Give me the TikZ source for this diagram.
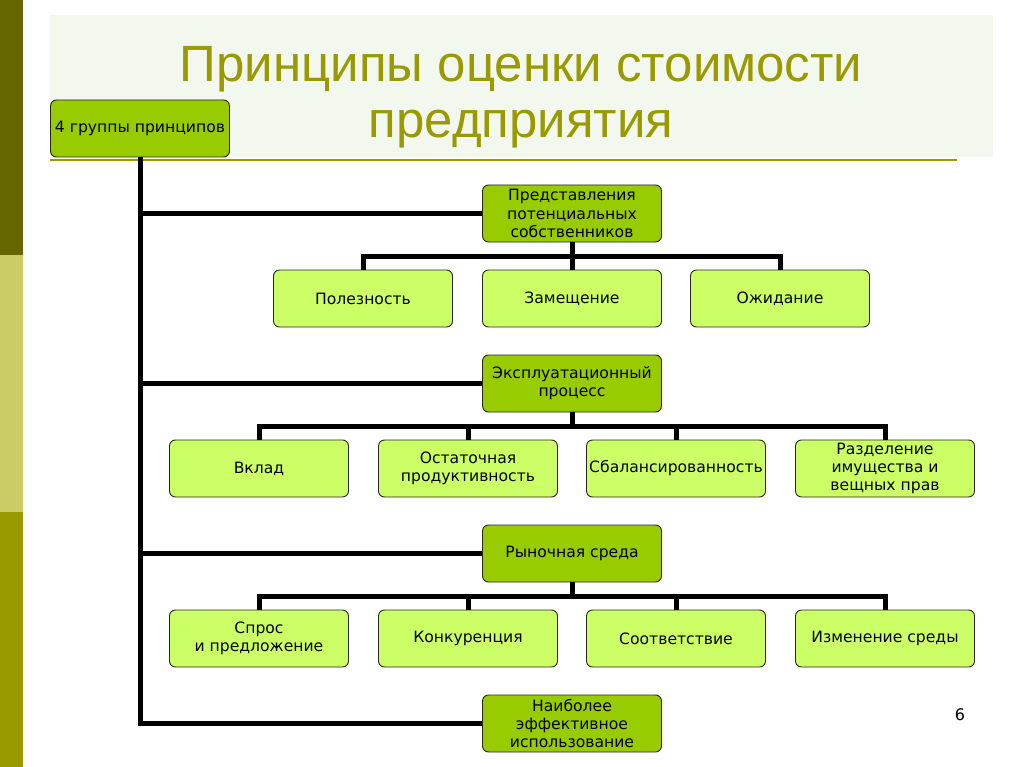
\documentclass[tikz,border=0pt]{standalone}
\usepackage{fontspec}
\setmainfont{DejaVu Sans}
\newfontfamily\titlefont{Liberation Sans}
\definecolor{barA}{HTML}{666600}
\definecolor{barB}{HTML}{CCCC66}
\definecolor{barC}{HTML}{999900}
\definecolor{titlebg}{HTML}{F3F8EE}
\definecolor{titlecol}{HTML}{999900}
\definecolor{darkfill}{HTML}{99CC00}
\definecolor{lightfill}{HTML}{CCFF66}
\tikzset{
  boxbase/.style={draw=black!85, line width=0.9pt, rounded corners=6pt,
    minimum width=179pt, minimum height=57pt, align=center, inner xsep=1pt, inner ysep=2pt,
    font=\fontsize{15.6}{18.3}\selectfont},
  lvlone/.style={boxbase, fill=darkfill},
  lvltwo/.style={boxbase, fill=lightfill},
  conn/.style={line width=5pt, black},
}
\begin{document}
\begin{tikzpicture}[x=1pt,y=-1pt]
\useasboundingbox (0,0) rectangle (1024,767);
\fill[white] (0,0) rectangle (1024,767);
% left bars
\fill[barA] (0,0) rectangle (23,255);
\fill[barB] (0,255) rectangle (23,512);
\fill[barC] (0,512) rectangle (23,767);
% title area
\fill[titlebg] (50,15) rectangle (993,157);
\draw[titlecol, line width=2pt] (50,160) -- (957,160);
\node[anchor=base, text=titlecol, font=\titlefont\fontsize{51}{60}\selectfont, inner sep=0] (t1) at (521,82) {Принципы оценки стоимости};
\node[anchor=base, text=titlecol, font=\titlefont\fontsize{51}{60}\selectfont, inner sep=0] (t2) at (521,138) {предприятия};

% nodes
\node[lvlone] (root) at (140,128.5) {4 группы принципов};
\node[lvlone] (p1) at (572,213.5) {Представления\\потенциальных\\собственников};
\node[lvlone] (p2) at (572,383.5) {Эксплуатационный\\процесс};
\node[lvlone] (p3) at (572,553.5) {Рыночная среда};
\node[lvlone] (p4) at (572,723.5) {Наиболее\\эффективное\\использование};

\node[lvltwo] (a1) at (363,298.5) {Полезность};
\node[lvltwo] (a2) at (572,298.5) {Замещение};
\node[lvltwo] (a3) at (780,298.5) {Ожидание};

\node[lvltwo] (b1) at (259,468.5) {Вклад};
\node[lvltwo] (b2) at (468,468.5) {Остаточная\\продуктивность};
\node[lvltwo] (b3) at (676,468.5) {Сбалансированность};
\node[lvltwo] (b4) at (885,468.5) {Разделение\\имущества и\\вещных прав};

\node[lvltwo] (c1) at (259,638.5) {Спрос\\и предложение};
\node[lvltwo] (c2) at (468,638.5) {Конкуренция};
\node[lvltwo] (c3) at (676,638.5) {Соответствие};
\node[lvltwo] (c4) at (885,638.5) {Изменение среды};

% connectors
\foreach \p in {p1,p2,p3,p4} {
  \draw[conn] (root.south) |- (\p.west);
}
\foreach \c in {a1,a2,a3} {
  \draw[conn] (p1.south) -- ++(0,-14pt) -| (\c.north);
}
\foreach \c in {b1,b2,b3,b4} {
  \draw[conn] (p2.south) -- ++(0,-14pt) -| (\c.north);
}
\foreach \c in {c1,c2,c3,c4} {
  \draw[conn] (p3.south) -- ++(0,-14pt) -| (\c.north);
}

\node[font=\fontsize{16}{18}\selectfont] (pg) at (960,715) {6};
\end{tikzpicture}
\end{document}
